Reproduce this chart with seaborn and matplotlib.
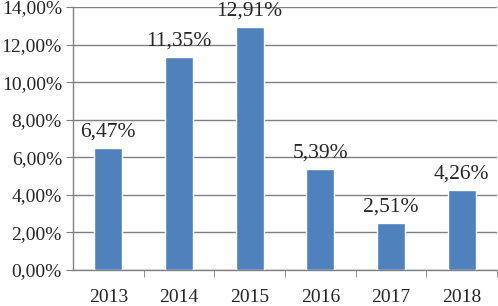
import matplotlib
matplotlib.use("Agg")
import matplotlib.pyplot as plt
import seaborn as sns
import pandas as pd
from matplotlib.ticker import FuncFormatter, FixedLocator

years = ["2013", "2014", "2015", "2016", "2017", "2018"]
values = [6.47, 11.35, 12.91, 5.39, 2.51, 4.26]
labels = ["6,47%", "11,35%", "12,91%", "5,39%", "2,51%", "4,26%"]

sns.set_style("white")
plt.rcParams['font.family'] = ['Liberation Serif', 'DejaVu Serif']

df = pd.DataFrame({"year": years, "value": values})

fig = plt.figure(figsize=(4.98, 3.06), dpi=100)
ax = fig.add_axes([73/498, 36/306, (497-73)/498, (270-7)/306])

sns.barplot(data=df, x="year", y="value", color="#4F81BD", width=0.4, ax=ax, zorder=3, saturation=1)

ax.set_ylim(0, 14)
ax.set_xlim(-0.5, 5.5)
ax.set_yticks(range(0, 15, 2))
ax.yaxis.set_major_formatter(FuncFormatter(lambda v, p: f"{v:.2f}".replace(".", ",") + "%"))
ax.grid(axis="y", color="#808080", linewidth=1, zorder=0)
ax.set_axisbelow(True)
for s in ["top", "right"]:
    ax.spines[s].set_visible(False)
for s in ["left", "bottom"]:
    ax.spines[s].set_color("#808080")
    ax.spines[s].set_linewidth(1)

ax.set_xlabel("")
ax.set_ylabel("")
ax.tick_params(axis="y", which="major", left=True, length=5, color="#808080", labelsize=14, pad=3)
ax.tick_params(axis="x", which="major", bottom=False, labelsize=14, pad=10)
ax.xaxis.set_minor_locator(FixedLocator([0.5, 1.5, 2.5, 3.5, 4.5, 5.5]))
ax.tick_params(axis="x", which="minor", bottom=True, length=5, color="#808080")

for i, (v, lab) in enumerate(zip(values, labels)):
    ax.text(i, v + 0.35, lab, ha="center", va="bottom", fontsize=15.5)

fig.savefig("out.png", dpi=100)
